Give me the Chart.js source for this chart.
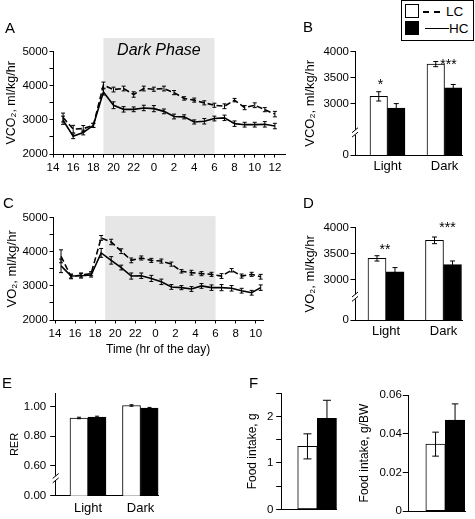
<!DOCTYPE html>
<html><head><meta charset="utf-8">
<script src="https://cdn.jsdelivr.net/npm/chart.js@4/dist/chart.umd.min.js"></script>
<style>
html,body{margin:0;padding:0;background:#fff;}
#wrap{position:relative;width:475px;height:519px;overflow:hidden;font-family:"Liberation Sans",Arial,Helvetica,sans-serif;color:#000;}
canvas{position:absolute;left:0;top:0;}
.pl{position:absolute;font-size:15px;line-height:15px;}
.lg{position:absolute;}
</style></head><body>
<div id="wrap">
<canvas id="cA" width="475" height="519"></canvas>
<canvas id="cB" width="475" height="519"></canvas>
<canvas id="cC" width="475" height="519"></canvas>
<canvas id="cD" width="475" height="519"></canvas>
<canvas id="cE" width="475" height="519"></canvas>
<canvas id="cF1" width="475" height="519"></canvas>
<canvas id="cF2" width="475" height="519"></canvas>
<div class="pl" style="left:5px;top:20px">A</div>
<div class="pl" style="left:303px;top:19px">B</div>
<div class="pl" style="left:3px;top:195px">C</div>
<div class="pl" style="left:303px;top:195px">D</div>
<div class="pl" style="left:2px;top:375px">E</div>
<div class="pl" style="left:249px;top:375px">F</div>
<div class="lg" style="left:401px;top:0px;width:71px;height:39px;border:1px solid #000;background:#fff"></div>
<div class="lg" style="left:405px;top:4px;width:12px;height:12px;border:1px solid #000;background:#fff"></div>
<div class="lg" style="left:423px;top:11px;width:18px;height:1.5px;background:repeating-linear-gradient(to right,#000 0 6.5px,transparent 6.5px 11px)"></div>
<div class="lg" style="left:446px;top:4px;font-size:13.5px;line-height:15px">LC</div>
<div class="lg" style="left:405px;top:21px;width:14px;height:14px;background:#000"></div>
<div class="lg" style="left:425px;top:27.5px;width:24px;height:1.5px;background:#000"></div>
<div class="lg" style="left:449px;top:21px;font-size:13.5px;line-height:15px">HC</div>
</div>
<script>
// ---------- DATA ----------
// Panel A: VCO2 time course (hour of day)
const A_hours = [15,16,17,18,19,20,21,22,23,0,1,2,3,4,5,6,7,8,9,10,11,12];
const A_LC    = [3070,2730,2745,2840,4020,3890,3920,3745,3920,3900,3920,3800,3630,3580,3500,3430,3400,3580,3360,3430,3300,3170];
const A_LC_err= [130,110,90,60,90,70,70,80,70,60,70,60,50,60,60,60,70,50,60,70,60,80];
const A_HC    = [2990,2520,2630,2840,3820,3430,3310,3310,3350,3330,3250,3100,3090,2940,2960,3040,3060,2890,2860,2860,2870,2820];
const A_HC_err= [120,70,70,60,90,100,80,70,80,90,70,70,60,60,80,70,80,80,70,70,80,80];
// Panel C: VO2 time course
const C_hours = [14.6,15.6,16.6,17.6,18.6,19.6,20.6,21.6,22.6,23.6,0.6,1.6,2.6,3.6,4.6,5.6,6.6,7.6,8.6,9.6,10.5];
const C_LC    = [3870,3270,3320,3360,4410,4290,4020,3750,3820,3750,3730,3640,3430,3390,3360,3340,3290,3460,3290,3340,3270];
const C_LC_err= [190,60,60,60,70,80,70,70,60,60,60,60,50,70,60,60,70,50,60,60,70];
const C_HC    = [3590,3290,3300,3320,3970,3750,3540,3290,3300,3220,3120,2970,2950,2910,3000,2950,2950,2930,2860,2800,2950];
const C_HC_err= [200,60,70,60,130,110,70,90,80,90,80,70,60,70,70,80,90,80,70,70,80];
const C_xTicks = [14,16,18,20,22,24,26,28,30,32,34];
const C_xTickLabels = ['14','16','18','20','22','0','2','4','6','8','10'];
// Bar panels
const phases = ['Light','Dark'];
const B_LC = [3135,3760], B_LC_err = [90,50];
const B_HC = [2910,3300], B_HC_err = [85,65];
const B_sig = ['*','***'], B_sigY = [3283,3673];
const B_yTicks = [2000,3000,3500,4000], B_yTickLabels = ['0','3000','3500','4000'];
const D_LC = [3410,3757], D_LC_err = [51,64];
const D_HC = [3150,3290], D_HC_err = [83,70];
const D_sig = ['**','***'], D_sigY = [3500,3917];
const D_yTicks = [2225,3000,3500,4000], D_yTickLabels = ['0','3000','3500','4000'];
const E_LC = [0.923,1.007], E_LC_err = [0.005,0.005];
const E_HC = [0.929,0.989], E_HC_err = [0.006,0.005];
const E_yTicks = [0.4,0.6,0.8,1.0], E_yTickLabels = ['0.00','0.60','0.80','1.00'];
const F1_LC = [1.357], F1_LC_err = [0.27];
const F1_HC = [1.96],  F1_HC_err = [0.39];
const F1_yTicks = [0,0.5,1,1.5,2,2.5], F1_yTickLabels = ['0','','1','','2',''];
const F2_LC = [0.0346], F2_LC_err = [0.0062];
const F2_HC = [0.0471], F2_HC_err = [0.0083];
const F2_yTicks = [0,0.02,0.04,0.06], F2_yTickLabels = ['0','0.02','0.04','0.06'];

// ---------- PLUGINS ----------
const errPlugin = {
  id:'errbars',
  afterDatasetsDraw(chart){
    const ctx = chart.ctx, ys = chart.scales.y;
    chart.data.datasets.forEach((ds,di)=>{
      if(!ds.err) return;
      const meta = chart.getDatasetMeta(di);
      ctx.save(); ctx.strokeStyle='#000'; ctx.lineWidth=1; ctx.setLineDash([]);
      meta.data.forEach((el,i)=>{
        const d = ds.data[i]; const v = (typeof d==='object') ? d.y : d;
        const e = ds.err[i], c = ds.capW || 2;
        const x = el.x, y1 = ys.getPixelForValue(v+e), y2 = ys.getPixelForValue(v-e);
        ctx.beginPath();
        ctx.moveTo(x,y1); ctx.lineTo(x,y2);
        ctx.moveTo(x-c,y1); ctx.lineTo(x+c,y1);
        ctx.moveTo(x-c,y2); ctx.lineTo(x+c,y2);
        ctx.stroke();
      });
      ctx.restore();
    });
  }
};
const shadePlugin = {
  id:'shade',
  beforeDraw(chart,args,o){
    if(!o || o.from===undefined) return;
    const ctx=chart.ctx, xs=chart.scales.x, ys=chart.scales.y, ca=chart.chartArea;
    const x1=xs.getPixelForValue(o.from), x2=xs.getPixelForValue(o.to), yt=ys.getPixelForValue(o.top);
    ctx.save(); ctx.fillStyle=o.color; ctx.fillRect(x1,yt,x2-x1,ca.bottom-yt);
    if(o.text){ ctx.fillStyle='#000'; ctx.font='italic 16px "Liberation Sans", Arial, sans-serif';
      ctx.textAlign='center'; ctx.textBaseline='middle'; ctx.fillText(o.text,(x1+x2)/2, ys.getPixelForValue(o.textY)); }
    ctx.restore();
  }
};
const breakPlugin = {
  id:'ybreak',
  afterDraw(chart,args,o){
    if(!o || o.at===undefined) return;
    const ctx=chart.ctx, x=chart.chartArea.left, y=chart.scales.y.getPixelForValue(o.at);
    ctx.save(); ctx.fillStyle='#fff'; ctx.fillRect(x-2,y-2.5,4,5);
    ctx.strokeStyle='#000'; ctx.lineWidth=1; ctx.beginPath();
    [-2.2,2.2].forEach(k=>{ ctx.moveTo(x-3,y+k+2.5); ctx.lineTo(x+3,y+k-2.5); });
    ctx.stroke(); ctx.restore();
  }
};
const starPlugin = {
  id:'stars',
  afterDraw(chart,args,o){
    if(!o || !o.text) return;
    const ctx=chart.ctx, xs=chart.scales.x, ys=chart.scales.y;
    ctx.save(); ctx.fillStyle='#000'; ctx.font='14px "Liberation Sans", Arial, sans-serif';
    ctx.textAlign='center'; ctx.textBaseline='alphabetic';
    o.text.forEach((t,i)=>{ ctx.fillText(t, xs.getPixelForValue(i+1)+o.dx[i], ys.getPixelForValue(o.y[i])); });
    ctx.restore();
  }
};
Chart.register(errPlugin, shadePlugin, breakPlugin, starPlugin);
Chart.defaults.font.family = '"Liberation Sans", Arial, Helvetica, sans-serif';
Chart.defaults.color = '#000';
Chart.defaults.font.size = 11.5;

// ---------- HELPERS ----------
const W = 475, H = 519;
function layoutFor(p){ return {autoPadding:false, padding:{left:p.pl, top:p.T, right:W-p.R, bottom:H-p.B-p.xh}}; }
function yScale(p, cfg){
  return Object.assign({
    position:'left', min:p.ymin, max:p.ymax,
    afterFit(s){ s.width = p.L - p.pl; },
    border:{display:true,color:'#000',width:1},
    grid:{drawOnChartArea:false, drawTicks:true, tickLength:p.tl, color:'#000', lineWidth:1},
    ticks:{padding:p.tp, color:'#000', font:{size:11.5}, autoSkip:false},
    title:{display:true, text:p.ytitle, color:'#000', font:{size:p.yts}, padding:{top:p.tx - p.pl - p.yts*0.6, bottom:0}}
  }, cfg);
}
function toXY(hours, vals){ return hours.map((h,i)=>({x: h<14 ? h+24 : h, y: vals[i]})); }
function barXY(vals){ return vals.map((v,i)=>({x:i+1, y:v})); }
const base = {responsive:false, animation:false, events:[]};

// ---------- PANEL A ----------
const pA = {pl:0, L:53, T:51.7, R:285, B:154, xh:26, ymin:2000, ymax:5000, tl:3.5, tp:1.5, ytitle:'VCO₂, ml/kg/hr', yts:12.5, tx:12};
new Chart(document.getElementById('cA'), {
  type:'line',
  data:{datasets:[
    {label:'LC', data:toXY(A_hours,A_LC), err:A_LC_err, capW:2, borderColor:'#000', borderWidth:1.6, borderDash:[6,3], pointRadius:0, fill:false, tension:0},
    {label:'HC', data:toXY(A_hours,A_HC), err:A_HC_err, capW:2, borderColor:'#000', borderWidth:1.6, pointRadius:0, fill:false, tension:0}
  ]},
  options:Object.assign({}, base, {
    layout:layoutFor(pA),
    plugins:{legend:{display:false}, tooltip:{enabled:false},
      shade:{from:19, to:30, top:5400, color:'#e6e6e6', text:'Dark Phase', textY:5020}},
    scales:{
      x:{type:'linear', min:14, max:37,
        afterFit(s){ s.height = pA.xh; },
        afterBuildTicks(s){ s.ticks = s.ticks.filter(t=>t.value<=36); },
        border:{display:true,color:'#000',width:1},
        grid:{drawOnChartArea:false, drawTicks:true, tickLength:3.5, color:'#000'},
        ticks:{stepSize:1, autoSkip:false, maxRotation:0, padding:3, color:'#000', font:{size:11.5},
          callback:(v)=> (v%2===0 ? String(v%24) : '')}},
      y:yScale(pA, {ticks:{stepSize:500, padding:1.5, color:'#000', font:{size:11.5}, callback:(v)=> (v%1000===0 ? v : '')}})
    }
  })
});

// ---------- PANEL C ----------
const pC = {pl:0, L:53, T:217.8, R:263.3, B:320, xh:40, ymin:2000, ymax:5000, tl:3.5, tp:1.5, ytitle:'VO₂, ml/kg/hr', yts:13, tx:12};
new Chart(document.getElementById('cC'), {
  type:'line',
  data:{datasets:[
    {label:'LC', data:toXY(C_hours,C_LC), err:C_LC_err, capW:2, borderColor:'#000', borderWidth:1.6, borderDash:[6,3], pointRadius:0, fill:false, tension:0},
    {label:'HC', data:toXY(C_hours,C_HC), err:C_HC_err, capW:2, borderColor:'#000', borderWidth:1.6, pointRadius:0, fill:false, tension:0}
  ]},
  options:Object.assign({}, base, {
    layout:layoutFor(pC),
    plugins:{legend:{display:false}, tooltip:{enabled:false},
      shade:{from:19, to:30, top:5050, color:'#e6e6e6'}},
    scales:{
      x:{type:'linear', min:13.8, max:34.76,
        afterFit(s){ s.height = pC.xh; },
        afterBuildTicks(s){ s.ticks = C_xTicks.map(v=>({value:v})); },
        border:{display:true,color:'#000',width:1},
        grid:{drawOnChartArea:false, drawTicks:true, tickLength:3.5, color:'#000'},
        ticks:{autoSkip:false, maxRotation:0, padding:3, color:'#000', font:{size:11.5},
          callback:(v)=> C_xTickLabels[C_xTicks.indexOf(v)]},
        title:{display:true, text:'Time (hr of the day)', color:'#000', font:{size:12}, padding:{top:0,bottom:2.8}}},
      y:yScale(pC, {ticks:{stepSize:500, padding:1.5, color:'#000', font:{size:11.5}, callback:(v)=> (v%1000===0 ? v : '')}})
    }
  })
});

// ---------- BAR PANELS ----------
function barChart(id, p, lc, lcErr, hc, hcErr, yTicks, yLabels, extra){
  return new Chart(document.getElementById(id), {
    type:'bar',
    data:{datasets:[
      {label:'LC', data:barXY(lc), err:lcErr, capW:p.cap, backgroundColor:'#fff', borderColor:'#000', borderWidth:1, barThickness:p.bw, borderSkipped:false},
      {label:'HC', data:barXY(hc), err:hcErr, capW:p.cap, backgroundColor:'#000', borderColor:'#000', borderWidth:1, barThickness:p.bw, borderSkipped:false}
    ]},
    options:Object.assign({}, base, {
      layout:layoutFor(p),
      plugins:Object.assign({legend:{display:false}, tooltip:{enabled:false}}, extra||{}),
      scales:{
        x:{type:'linear', min:p.xmin, max:p.xmax, offset:false,
          afterFit(s){ s.height = p.xh; },
          afterBuildTicks(s){ s.ticks = p.cats ? p.cats.map((c,i)=>({value:i+1})) : []; },
          border:{display:true,color:'#000',width:1},
          grid:{display:true, drawOnChartArea:false, drawTicks:false, offset:false},
          ticks:{display:!!p.cats, autoSkip:false, maxRotation:0, padding:p.xpad||4, color:'#000', font:{size:13},
            callback:(v)=> p.cats ? p.cats[Math.round(v)-1] : ''}},
        y:yScale(p, {
          afterBuildTicks(s){ s.ticks = yTicks.map(v=>({value:v})); },
          ticks:{padding:p.tp, color:'#000', font:{size:11.5}, autoSkip:false, callback:(v)=> yLabels[yTicks.indexOf(v)]}})
      }
    })
  });
}
const pB = {pl:290, L:355, T:51.7, R:462, B:155, xh:25, ymin:2000, ymax:4000, tl:4.5, tp:1.5, ytitle:'VCO₂, ml/kg/hr', yts:13, tx:310,
  xmin:0.4298, xmax:2.307, bw:17.5, cap:2.5, cats:phases, xpad:4};
barChart('cB', pB, B_LC, B_LC_err, B_HC, B_HC_err, B_yTicks, B_yTickLabels,
  {ybreak:{at:2437}, stars:{text:B_sig, y:B_sigY, dx:[-7,4]}});

const pD = {pl:290, L:355, T:227.7, R:462, B:320, xh:25, ymin:2225, ymax:4000, tl:4.5, tp:1.5, ytitle:'VO₂, ml/kg/hr', yts:13, tx:310,
  xmin:0.461, xmax:2.322, bw:18, cap:2.5, cats:phases, xpad:4};
barChart('cD', pD, D_LC, D_LC_err, D_HC, D_HC_err, D_yTicks, D_yTickLabels,
  {ybreak:{at:2673}, stars:{text:D_sig, y:D_sigY, dx:[-1,4]}});

const pE = {pl:0, L:55.7, T:393.3, R:158.3, B:495.7, xh:22, ymin:0.4, ymax:1.089, tl:5.5, tp:4, ytitle:'RER', yts:11, tx:15,
  xmin:0.385, xmax:2.339, bw:18, cap:2, cats:phases, xpad:4.5};
barChart('cE', pE, E_LC, E_LC_err, E_HC, E_HC_err, E_yTicks, E_yTickLabels, {ybreak:{at:0.518}});

const pF1 = {pl:240, L:281.7, T:393.3, R:336.7, B:511.7, xh:5, ymin:0, ymax:2.5, tl:5.5, tp:2.7, ytitle:'Food intake, g', yts:12, tx:253,
  xmin:0, xmax:1.549, bw:19.5, cap:4, cats:null};
barChart('cF1', pF1, F1_LC, F1_LC_err, F1_HC, F1_HC_err, F1_yTicks, F1_yTickLabels);

const pF2 = {pl:355, L:408.3, T:395, R:465, B:511.7, xh:5, ymin:0, ymax:0.06, tl:5.5, tp:1, ytitle:'Food intake, g/BW', yts:12, tx:365,
  xmin:0, xmax:1.532, bw:19.5, cap:3.3, cats:null};
barChart('cF2', pF2, F2_LC, F2_LC_err, F2_HC, F2_HC_err, F2_yTicks, F2_yTickLabels);
</script>
</body></html>
